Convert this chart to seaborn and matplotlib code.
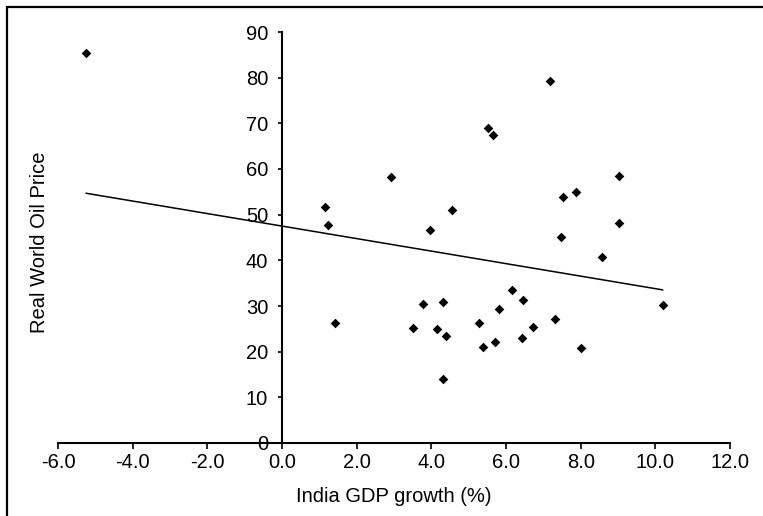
import numpy as np
import pandas as pd
import seaborn as sns
import matplotlib.pyplot as plt
from matplotlib.patches import Rectangle

# India GDP growth (%) vs real world oil price
gdp_growth = [-5.25, 2.92, 7.18, 5.53, 5.64, 9.03, 7.88, 7.54, 4.55, 3.96,
              9.03, 7.48, 8.57, 1.15, 1.24, 1.42, 10.2, 6.15, 6.46, 5.81,
              3.79, 4.32, 3.52, 4.16, 4.39, 5.29, 7.31, 6.71, 5.39, 5.71,
              6.43, 8.01, 4.32]
oil_price = [85.4, 58.3, 79.3, 68.9, 67.4, 58.5, 55.0, 53.8, 51.1, 46.6,
             48.1, 45.2, 40.8, 51.6, 47.7, 26.2, 30.2, 33.6, 31.3, 29.4,
             30.5, 30.9, 25.2, 25.0, 23.4, 26.3, 27.1, 25.4, 21.0, 22.2,
             22.9, 20.9, 14.0]

# linear trend as drawn
trend_intercept = 47.5
trend_slope = -1.37

x_ticks = [-6, -4, -2, 0, 2, 4, 6, 8, 10, 12]
y_ticks = [0, 10, 20, 30, 40, 50, 60, 70, 80, 90]

sns.set_style("white")
plt.rcParams['font.family'] = ['Liberation Sans', 'DejaVu Sans']
plt.rcParams['text.color'] = 'black'
plt.rcParams['axes.labelcolor'] = 'black'

df = pd.DataFrame({'gdp': gdp_growth, 'oil': oil_price})

fig = plt.figure(figsize=(7.63, 5.16), dpi=100)
ax = fig.add_axes([58 / 763, 1 - 443 / 516, 672 / 763, 411 / 516])

sns.scatterplot(x='gdp', y='oil', data=df, marker='D', color='black',
                s=24, linewidth=0, ax=ax, zorder=3)

xs = np.array([min(gdp_growth), max(gdp_growth)])
trend = pd.DataFrame({'gdp': xs, 'oil': trend_intercept + trend_slope * xs})
sns.lineplot(x='gdp', y='oil', data=trend, color='black', linewidth=1.1, ax=ax)

ax.set_xlim(-6, 12)
ax.set_ylim(0, 90)
ax.set_xticks(x_ticks)
ax.set_xticklabels(['%.1f' % v for v in x_ticks])
ax.set_yticks(y_ticks)

ax.spines['top'].set_visible(False)
ax.spines['right'].set_visible(False)
ax.spines['left'].set_position(('data', 0))
for sp in ['left', 'bottom']:
    ax.spines[sp].set_color('black')
    ax.spines[sp].set_linewidth(1.5)

ax.tick_params(axis='both', direction='out', length=4, width=1.2,
               colors='black', labelsize=14.5, bottom=True, left=True)
ax.tick_params(axis='x', pad=3)
ax.tick_params(axis='y', pad=7, length=3)

ax.set_xlabel('India GDP growth (%)', fontsize=14.5, labelpad=11)
ax.set_ylabel('')
fig.text(40 / 763, 1 - 242 / 516, 'Real World Oil Price', rotation=90,
         ha='center', va='center', fontsize=14.5)

# frame around the figure (cut off at right and bottom)
fig.patches.append(Rectangle((7 / 763, -0.1), 1.2, 1 - 7 / 516 + 0.1,
                             transform=fig.transFigure, fill=False,
                             edgecolor='black', linewidth=1.6))

fig.savefig('out.png', dpi=100)
